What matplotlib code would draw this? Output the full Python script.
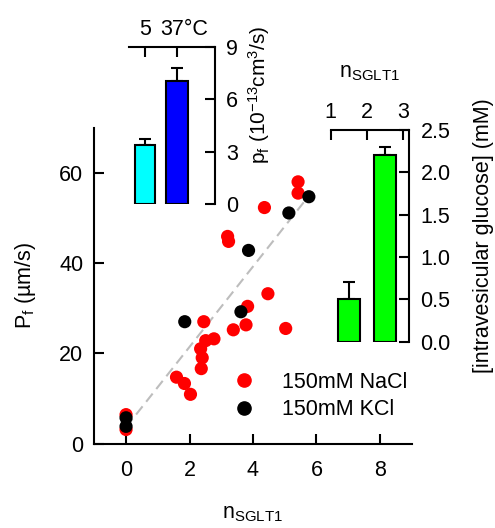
import matplotlib
matplotlib.use("Agg")
import matplotlib.pyplot as plt
import matplotlib.transforms as mtransforms
from matplotlib.lines import Line2D

plt.rcParams['font.family'] = ['Liberation Sans', 'DejaVu Sans']
plt.rcParams['mathtext.default'] = 'regular'
plt.rcParams['font.size'] = 15.5

# ---- main scatter data ----
nacl_x = [5.42, 5.42, 4.36, 3.20, 3.23, 4.47, 3.83, 2.45, 3.78, 3.38, 5.03, 2.77,
          2.51, 2.35, 2.40, 2.37, 1.59, 1.84, 2.03, 0.0, 0.0]
nacl_y = [58.0, 55.5, 52.3, 45.9, 44.8, 33.2, 30.4, 27.0, 26.3, 25.2, 25.5, 23.2,
          22.8, 21.0, 19.0, 16.6, 14.7, 13.3, 10.9, 6.4, 3.1]
kcl_x = [5.76, 5.13, 3.86, 3.62, 1.85, 0.0, 0.0]
kcl_y = [54.7, 51.1, 42.8, 29.2, 27.0, 5.7, 3.8]
fit_x = [0.0, 5.76]
fit_y = [3.6, 54.9]
main_xticks = [0, 2, 4, 6, 8]
main_yticks = [0, 20, 40, 60]

# ---- inset 1 (temperature) ----
temp_labels = ['5', '37°C']
temp_pos = [1, 2]
temp_vals = [3.35, 7.05]
temp_err = [0.35, 0.75]
temp_colors = ['#00ffff', '#0000ff']
temp_yticks = [0, 3, 6, 9]

# ---- inset 2 (glucose) ----
gluc_pos = [1.5, 2.5]
gluc_vals = [0.50, 2.20]
gluc_err = [0.20, 0.10]
gluc_xticks = [1, 2, 3]
gluc_yticks = [0.0, 0.5, 1.0, 1.5, 2.0, 2.5]

W, H = 495, 528
fig = plt.figure(figsize=(W / 100, H / 100), dpi=100)

def rect(l, r, t, b):
    return [l / W, 1 - b / H, (r - l) / W, (b - t) / H]

# main axes
ax = fig.add_axes(rect(94.3, 411.7, 127.7, 443.5))
ax.patch.set_alpha(0)
ax.plot(fit_x, fit_y, color='#bdbdbd', lw=1.5, linestyle=(0, (5, 2.8)), zorder=1)
ax.scatter(nacl_x, nacl_y, s=90, color='#ff0000', edgecolors='none', zorder=2)
ax.scatter(kcl_x, kcl_y, s=90, color='black', edgecolors='none', zorder=3)
ax.set_xlim(-1, 9)
ax.set_ylim(0, 70)
ax.set_xticks(main_xticks)
ax.set_yticks(main_yticks)
for s in ['top', 'right']:
    ax.spines[s].set_visible(False)
for s in ['left', 'bottom']:
    ax.spines[s].set_linewidth(1.5)
ax.tick_params(direction='in', length=7, width=1.5)
ax.tick_params(axis='y', pad=8)
ax.tick_params(axis='x', pad=12)
ax.set_xlabel('n$_{SGLT1}$', labelpad=16)
ax.set_ylabel('P$_f$ (µm/s)', labelpad=15)

handles = [Line2D([], [], marker='o', ls='none', color='#ff0000', markersize=9.5),
           Line2D([], [], marker='o', ls='none', color='black', markersize=9.5)]
leg = ax.legend(handles, ['150mM NaCl', '150mM KCl'], loc='upper left',
                bbox_to_anchor=((234 - 94.3) / 317.4, (443.5 - 372) / 315.8),
                frameon=False, borderpad=0, borderaxespad=0, handlelength=0.9,
                handletextpad=1.35, labelspacing=0.3, fontsize=15.5)

# inset 1
ax1 = fig.add_axes(rect(129, 215, 46.7, 204))
ax1.patch.set_alpha(0)
ax1.bar(temp_pos, temp_vals, width=[0.6, 0.68], color=temp_colors,
        edgecolor='black', linewidth=1.5, zorder=2)
ax1.errorbar(temp_pos, temp_vals, yerr=[[0, 0], temp_err], fmt='none',
             ecolor='black', elinewidth=1.5, capsize=4.5, capthick=1.5, zorder=1)
ax1.set_xlim(0.5, 3.19)
ax1.set_ylim(0, 9)
ax1.set_xticks(temp_pos)
ax1.set_xticklabels(temp_labels)
ax1.set_yticks(temp_yticks)
ax1.xaxis.tick_top()
ax1.yaxis.tick_right()
for s in ['bottom', 'left']:
    ax1.spines[s].set_visible(False)
for s in ['top', 'right']:
    ax1.spines[s].set_linewidth(1.5)
ax1.tick_params(direction='in', length=7, width=1.5)
ax1.tick_params(axis='y', pad=8)
ax1.tick_params(axis='x', pad=5)
off = mtransforms.ScaledTranslation(7 / 100, 0, fig.dpi_scale_trans)
lab = ax1.get_xticklabels()[1]
lab.set_transform(lab.get_transform() + off)
fig.text(259 / W, 1 - 95 / H, 'p$_f$ (10$^{-13}$cm$^3$/s)', rotation=90,
         ha='center', va='center', fontsize=15)

# inset 2
ax2 = fig.add_axes(rect(330.7, 409.3, 130, 341.7))
ax2.patch.set_alpha(0)
ax2.bar(gluc_pos, gluc_vals, width=0.6, color='#00ff00',
        edgecolor='black', linewidth=1.5, zorder=2)
ax2.errorbar(gluc_pos, gluc_vals, yerr=[[0, 0], gluc_err], fmt='none',
             ecolor='black', elinewidth=1.5, capsize=4.5, capthick=1.5, zorder=1)
ax2.set_xlim(1, 3.16)
ax2.set_ylim(0, 2.5)
ax2.set_xticks(gluc_xticks)
ax2.set_yticks(gluc_yticks)
ax2.set_yticklabels([f'{v:.1f}' for v in gluc_yticks])
ax2.xaxis.tick_top()
ax2.xaxis.set_label_position('top')
ax2.yaxis.tick_right()
ax2.yaxis.set_label_position('right')
for s in ['bottom', 'left']:
    ax2.spines[s].set_visible(False)
for s in ['top', 'right']:
    ax2.spines[s].set_linewidth(1.5)
ax2.tick_params(direction='in', length=7, width=1.5)
ax2.tick_params(axis='y', pad=8)
ax2.tick_params(axis='x', pad=5)
ax2.set_xlabel('n$_{SGLT1}$', labelpad=18)
ax2.set_ylabel('[intravesicular glucose] (mM)', labelpad=16)

fig.savefig('out.png', dpi=100)
